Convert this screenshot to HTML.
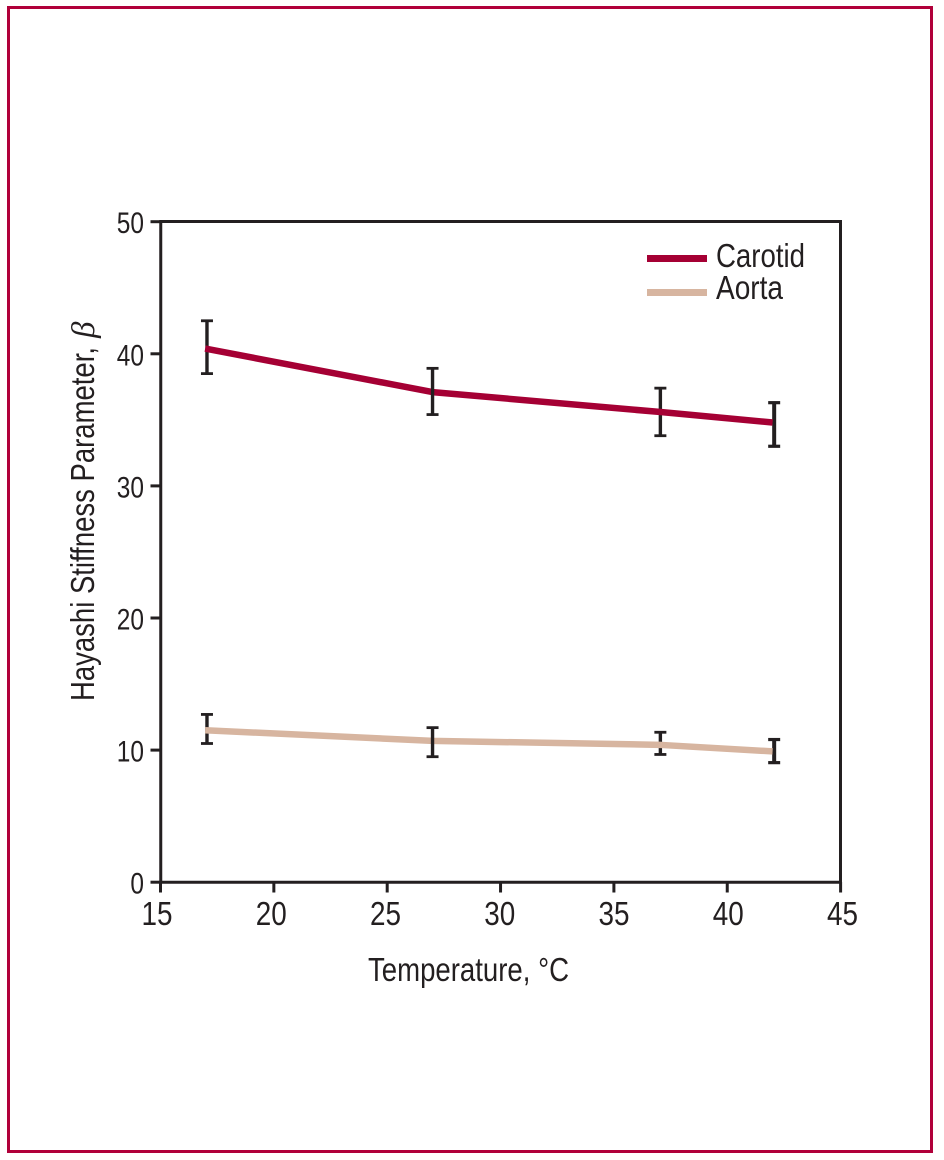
<!DOCTYPE html>
<html lang="en">
<head>
<meta charset="utf-8">
<title>Hayashi Stiffness Parameter vs Temperature</title>
<style>
  html, body { margin: 0; padding: 0; background: #fff; }
  body { width: 944px; height: 1160px; overflow: hidden; position: relative; }
  svg { display: block; position: absolute; left: 0; top: 0; }
  text { font-family: "Liberation Sans", sans-serif; fill: #231f20; }
</style>
</head>
<body>
<svg id="chart" width="944" height="1160" viewBox="0 0 944 1160" xmlns="http://www.w3.org/2000/svg">
  <rect x="8.5" y="7.5" width="923" height="1144" fill="none" stroke="#b0003a" stroke-width="3"/>
  <g id="ticks"></g>
  <rect x="160.75" y="221.5" width="679.75" height="660.75" fill="none" stroke="#231f20" stroke-width="3"/>
  <g id="bars-under"></g>
  <g id="series"></g>
  <g id="bars-over"></g>
  <g id="tick-labels"></g>

  <text x="368" y="981" font-size="33" textLength="201" lengthAdjust="spacingAndGlyphs">Temperature, °C</text>
  <text transform="translate(94,701) rotate(-90)" x="0" y="0" font-size="33" textLength="354" lengthAdjust="spacingAndGlyphs">Hayashi Stiffness Parameter,</text>
  <text transform="translate(94,338) rotate(-90)" x="0" y="0" font-size="33" font-style="italic" style="font-family:'Liberation Serif',serif">β</text>

  <line x1="647" x2="707" y1="258.5" y2="258.5" stroke="#a50034" stroke-width="7"/>
  <text x="716" y="267" font-size="33" textLength="89" lengthAdjust="spacingAndGlyphs">Carotid</text>
  <line x1="647" x2="707" y1="292.5" y2="292.5" stroke="#d7b5a0" stroke-width="7"/>
  <text x="716" y="299" font-size="33" textLength="67" lengthAdjust="spacingAndGlyphs">Aorta</text>
</svg>
<script>
const xTickValues = [15, 20, 25, 30, 35, 40, 45];
const yTickValues = [0, 10, 20, 30, 40, 50];
const lineTemps = [16.97, 27, 37, 42];
const barTemps = [17.05, 27, 37.05, 42.07];
const carotidMean = [40.4, 37.1, 35.6, 34.8];
const carotidUpper = [42.5, 38.9, 37.4, 36.3];
const carotidLower = [38.5, 35.4, 33.8, 33.0];
const aortaMean = [11.5, 10.7, 10.4, 9.9];
const aortaUpper = [12.7, 11.7, 11.35, 10.8];
const aortaLower = [10.5, 9.5, 9.67, 9.05];

const NS = 'http://www.w3.org/2000/svg';
const INK = '#231f20';
function xScale(t) { return 160.5 + (t - 15) * 22.67; }
function yScale(v) { return 882.2 - v * 13.21; }
function xLabelPos(t) { return 157 + (t - 15) * 22.85; }

function makeLine(parent, x1, y1, x2, y2, color, width) {
  const el = document.createElementNS(NS, 'line');
  el.setAttribute('x1', x1);
  el.setAttribute('y1', y1);
  el.setAttribute('x2', x2);
  el.setAttribute('y2', y2);
  el.setAttribute('stroke', color);
  el.setAttribute('stroke-width', width);
  parent.appendChild(el);
  return el;
}

function makeLabel(parent, x, y, size, width, anchor, content) {
  const el = document.createElementNS(NS, 'text');
  el.setAttribute('x', x);
  el.setAttribute('y', y);
  el.setAttribute('font-size', size);
  el.setAttribute('text-anchor', anchor);
  el.setAttribute('textLength', width);
  el.setAttribute('lengthAdjust', 'spacingAndGlyphs');
  el.textContent = content;
  parent.appendChild(el);
  return el;
}

const ticks = document.getElementById('ticks');
const tickLabels = document.getElementById('tick-labels');

xTickValues.forEach(function (t) {
  const tick = makeLine(ticks, xScale(t), 882, xScale(t), 892.5, INK, 3);
  
  
  const label = makeLabel(tickLabels, xLabelPos(t), 925, 33.5, 31, 'middle', String(t));
  
  
});

yTickValues.forEach(function (v) {
  const tick = makeLine(ticks, 150.5, yScale(v), 161, yScale(v), INK, 3);
  
  
  const text = String(v);
  const label = makeLabel(tickLabels, 144, yScale(v) + 11.5, 29.5, text.length * 13.6, 'end', text);
  
  
});

function drawBars(upper, lower) {
  barTemps.forEach(function (t, i) {
    const group = document.getElementById(i === 1 ? 'bars-over' : 'bars-under');
    const x = xScale(t);
    const stemWidth = i === 3 ? 4 : 3.4;
    const capWidth = i === 3 ? 3.2 : 2.8;
    const stem = makeLine(group, x, yScale(upper[i]), x, yScale(lower[i]), INK, stemWidth);
    
    
    const capTop = makeLine(group, x - 6, yScale(upper[i]), x + 6, yScale(upper[i]), INK, capWidth);
    
    
    const capBottom = makeLine(group, x - 6, yScale(lower[i]), x + 6, yScale(lower[i]), INK, capWidth);
    
    
  });
}

function drawSeries(values, color) {
  const path = document.createElementNS(NS, 'polyline');
  const pts = values.map(function (v, i) { return xScale(lineTemps[i]) + ',' + yScale(v); });
  path.setAttribute('points', pts.join(' '));
  path.setAttribute('fill', 'none');
  path.setAttribute('stroke', color);
  path.setAttribute('stroke-width', 6.5);
  path.setAttribute('stroke-linejoin', 'round');
  document.getElementById('series').appendChild(path);
  return path;
}

drawBars(carotidUpper, carotidLower);
drawBars(aortaUpper, aortaLower);

const carotidLine = drawSeries(carotidMean, '#a50034');



const aortaLine = drawSeries(aortaMean, '#d7b5a0');


</script>
</body>
</html>
